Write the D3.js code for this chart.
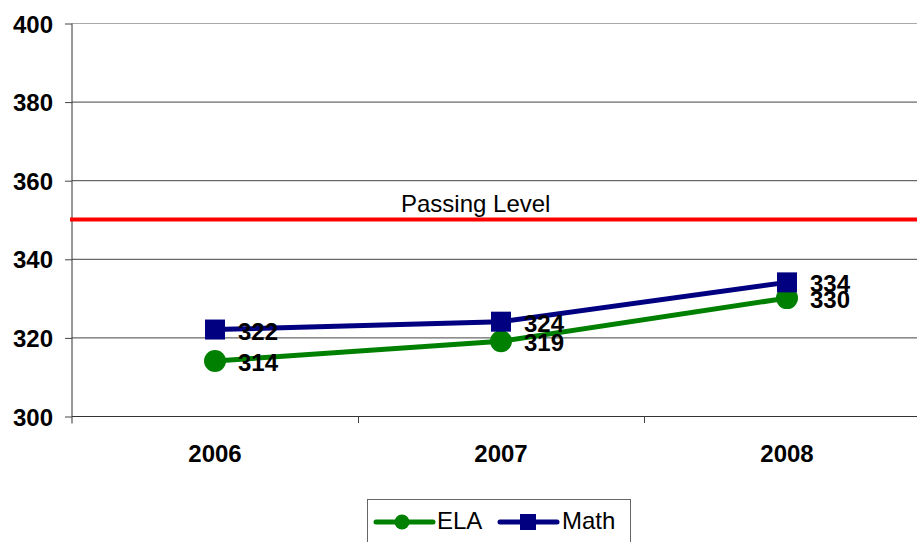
<!DOCTYPE html>
<html>
<head>
<meta charset="utf-8">
<script src="https://cdn.jsdelivr.net/npm/d3@7"></script>
<style>
  body { margin: 0; background: #fff; }
  text { font-family: Arial, "Liberation Sans", sans-serif; }
</style>
</head>
<body>
<div id="chart"></div>
<script>
// Chart data
var years = ["2006", "2007", "2008"];
var elaScores = [314, 319, 330];
var mathScores = [322, 324, 334];
var yTicks = [300, 320, 340, 360, 380, 400];
var passingLevel = 350;

var svgWidth = 917;
var svgHeight = 542;

var svg = d3.select("#chart")
    .append("svg")
    .attr("width", svgWidth)
    .attr("height", svgHeight);

// Plot area (the right edge runs past the window, as in the source)
var plotLeft = 72, plotRight = 930, plotTop = 23, plotBottom = 416;

var xScale = d3.scaleBand()
    .domain(years)
    .range([plotLeft, plotRight]);

var yScale = d3.scaleLinear()
    .domain([300, 400])
    .range([plotBottom, plotTop]);

// Gridlines
svg.append("g")
    .selectAll("line")
    .data(yTicks)
    .enter()
    .append("line")
    .attr("x1", plotLeft)
    .attr("x2", svgWidth)
    .attr("y1", d => yScale(d) + 0.5)
    .attr("y2", d => yScale(d) + 0.5)
    .attr("stroke", d => d == 400 ? "#aaa" : "#444")
    .attr("stroke-width", 1);

// Y axis
var leftAxis = d3.axisLeft(yScale)
    .tickValues(yTicks)
    .tickSize(7)
    .tickFormat(d3.format("d"));

var yAxis = svg.append("g")
    .attr("transform", `translate(${plotLeft}, 0.5)`)
    .call(leftAxis);
yAxis.select(".domain").attr("stroke", "#333").attr("d", `M0,${plotTop}V${plotBottom + 7}`);
yAxis.selectAll(".tick line").attr("stroke", "#444");
yAxis.selectAll("text")
    .attr("x", -19)
    .attr("dy", "0.36em")
    .attr("font-size", 24)
    .attr("font-weight", "bold")
    .attr("fill", "#000");

// X axis with ticks between categories
svg.append("line")
    .attr("x1", plotLeft).attr("x2", svgWidth)
    .attr("y1", plotBottom + 0.5).attr("y2", plotBottom + 0.5)
    .attr("stroke", "#333");

svg.append("g")
    .selectAll("line")
    .data(years.slice(1))
    .enter()
    .append("line")
    .attr("x1", d => xScale(d) + 0.5)
    .attr("x2", d => xScale(d) + 0.5)
    .attr("y1", plotBottom)
    .attr("y2", plotBottom + 7)
    .attr("stroke", "#444");

svg.append("g")
    .selectAll("text")
    .data(years)
    .enter()
    .append("text")
    .attr("x", d => xScale(d) + xScale.bandwidth() / 2)
    .attr("y", 462)
    .attr("text-anchor", "middle")
    .attr("font-size", 24)
    .attr("font-weight", "bold")
    .text(d => d);

// Passing level
svg.append("line")
    .attr("x1", plotLeft - 2)
    .attr("x2", svgWidth)
    .attr("y1", yScale(passingLevel))
    .attr("y2", yScale(passingLevel))
    .attr("stroke", "#ff0000")
    .attr("stroke-width", 4);

svg.append("text")
    .attr("x", 401)
    .attr("y", 212)
    .attr("font-size", 24)
    .text("Passing Level");

var cx = d => xScale(d) + xScale.bandwidth() / 2;

var lineGen = d3.line()
    .x(d => cx(d.year))
    .y(d => yScale(d.value));

var elaData = years.map((y, i) => ({ year: y, value: elaScores[i] }));
var mathData = years.map((y, i) => ({ year: y, value: mathScores[i] }));

// ELA series
svg.append("path")
    .datum(elaData)
    .attr("d", lineGen)
    .attr("fill", "none")
    .attr("stroke", "#008000")
    .attr("stroke-width", 5);

svg.append("g")
    .selectAll("circle")
    .data(elaData)
    .enter()
    .append("circle")
    .attr("cx", d => cx(d.year))
    .attr("cy", d => yScale(d.value))
    .attr("r", 11)
    .attr("fill", "#008000");

// Math series
svg.append("path")
    .datum(mathData)
    .attr("d", lineGen)
    .attr("fill", "none")
    .attr("stroke", "#000080")
    .attr("stroke-width", 5);

svg.append("g")
    .selectAll("rect")
    .data(mathData)
    .enter()
    .append("rect")
    .attr("x", d => cx(d.year) - 10)
    .attr("y", d => yScale(d.value) - 10)
    .attr("width", 20)
    .attr("height", 20)
    .attr("fill", "#000080");

// Data labels
svg.append("g")
    .selectAll("text")
    .data(mathData.concat(elaData))
    .enter()
    .append("text")
    .attr("x", d => cx(d.year) + 23)
    .attr("y", d => yScale(d.value) + 10)
    .attr("font-size", 24)
    .attr("font-weight", "bold")
    .text(d => d.value);

// Legend
var legend = svg.append("g");
legend.append("rect")
    .attr("x", 367.5).attr("y", 499.5)
    .attr("width", 263).attr("height", 45)
    .attr("fill", "#fff")
    .attr("stroke", "#666");

legend.append("line")
    .attr("x1", 376).attr("x2", 433)
    .attr("y1", 522).attr("y2", 522)
    .attr("stroke", "#008000").attr("stroke-width", 5).attr("stroke-linecap", "round");
legend.append("circle")
    .attr("cx", 402).attr("cy", 522).attr("r", 7.5)
    .attr("fill", "#008000");
legend.append("text")
    .attr("x", 437).attr("y", 529)
    .attr("font-size", 24)
    .text("ELA");

legend.append("line")
    .attr("x1", 500).attr("x2", 557)
    .attr("y1", 522).attr("y2", 522)
    .attr("stroke", "#000080").attr("stroke-width", 5).attr("stroke-linecap", "round");
legend.append("rect")
    .attr("x", 520).attr("y", 514).attr("width", 16).attr("height", 16)
    .attr("fill", "#000080");
legend.append("text")
    .attr("x", 562).attr("y", 529)
    .attr("font-size", 24)
    .text("Math");
</script>
</body>
</html>
